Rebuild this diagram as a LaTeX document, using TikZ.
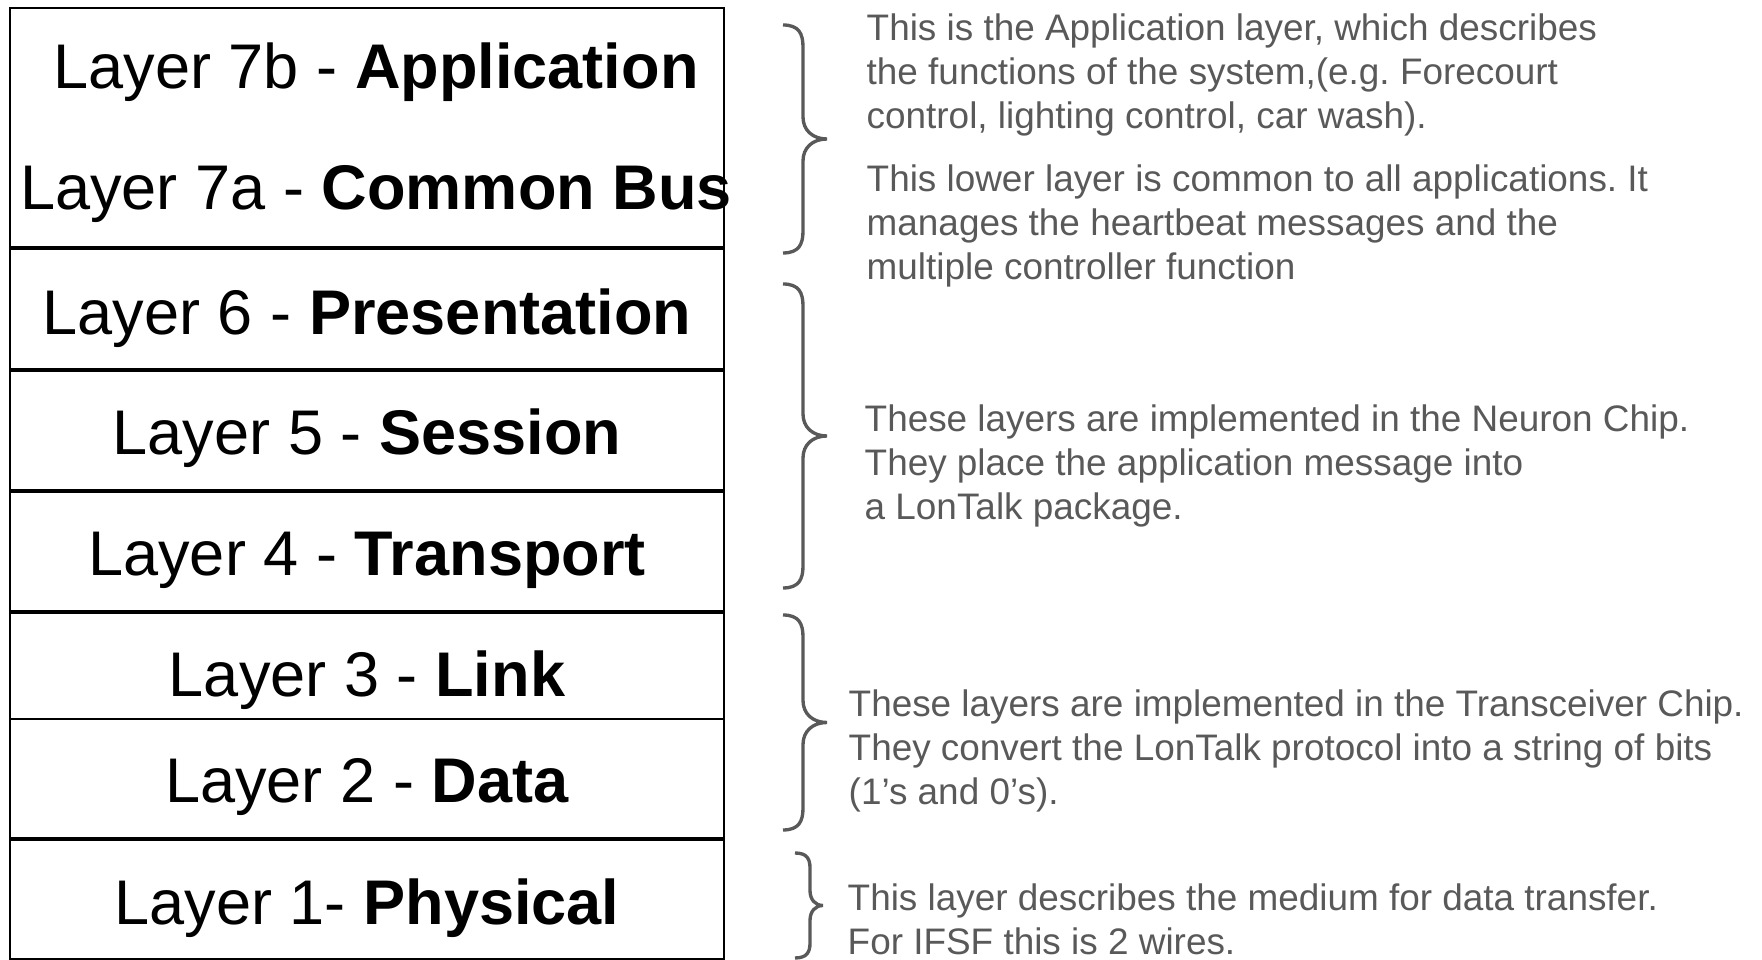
\documentclass[tikz,border=0pt]{standalone}
\usepackage{fontspec}
\setmainfont{Liberation Sans}

\definecolor{notegray}{RGB}{89,89,89}

% right-hand curly brace: end x, body x, tip x, top y, bottom y, curl length
\newcommand{\layerbrace}[6]{%
  \draw[bracegray] (#1,#4) .. controls ({#1+0.8*(#2-#1)},#4) and (#2,{#4-0.4*#6}) .. (#2,{#4-#6})
    -- (#2,{(#4+#5)/2+#6}) .. controls (#2,{(#4+#5)/2+0.4*#6}) and ({#2+0.4*(#3-#2)},{(#4+#5)/2}) .. (#3,{(#4+#5)/2})
    .. controls ({#2+0.4*(#3-#2)},{(#4+#5)/2}) and (#2,{(#4+#5)/2-0.4*#6}) .. (#2,{(#4+#5)/2-#6})
    -- (#2,{#5+#6}) .. controls (#2,{#5+0.4*#6}) and ({#1+0.8*(#2-#1)},#5) .. (#1,#5);%
}

\begin{document}
\begin{tikzpicture}[scale=1.0, thick,
  layerbox/.style={draw=black, line width=1.4pt},
  layertext/.style={anchor=base, inner sep=0pt, font=\fontsize{35.9pt}{43pt}\selectfont},
  notetext/.style={anchor=base west, inner sep=0pt, align=left, text=notegray,
    font=\fontsize{21pt}{25.3pt}\selectfont\frenchspacing},
  bracegray/.style={draw=notegray, line width=1.9pt}]

  \useasboundingbox (0,0) rectangle (35.24,19.2);

  % -- Layer Stack --
  \draw[layerbox] (0.20, 19.04) rectangle (14.48, 14.26);
  \draw[layerbox] (0.20, 14.22) rectangle (14.48, 11.82);
  \draw[layerbox] (0.20, 11.78) rectangle (14.48, 9.40);
  \draw[layerbox] (0.20, 9.36) rectangle (14.48, 6.98);
  \draw[layerbox] (0.20, 6.94) rectangle (14.48, 4.82);
  \draw[layerbox] (0.20, 4.82) rectangle (14.48, 2.44);
  \draw[layerbox] (0.20, 2.40) rectangle (14.48, 0.02);

  % -- Layer Names --
  \node[layertext] (app) at (7.52, 17.42) {Layer 7b - \textbf{Application}};
  \node[layertext] (bus) at (7.52, 15.00) {Layer 7a - \textbf{Common Bus}};
  \node[layertext] (pres) at (7.34, 12.50) {Layer 6 - \textbf{Presentation}};
  \node[layertext] (sess) at (7.34, 10.10) {Layer 5 - \textbf{Session}};
  \node[layertext] (trans) at (7.34, 7.68) {Layer 4 - \textbf{Transport}};
  \node[layertext] (link) at (7.34, 5.26) {Layer 3 - \textbf{Link}};
  \node[layertext] (data) at (7.34, 3.14) {Layer 2 - \textbf{Data}};
  \node[layertext] (phys) at (7.34, 0.70) {Layer 1- \textbf{Physical}};

  % -- Braces --
  \layerbrace{15.66}{16.06}{16.54}{18.70}{14.14}{0.44}
  \layerbrace{15.66}{16.06}{16.54}{13.52}{7.44}{0.44}
  \layerbrace{15.66}{16.06}{16.54}{6.90}{2.60}{0.44}
  \layerbrace{15.90}{16.20}{16.46}{2.14}{0.04}{0.30}

  % -- Notes (anchored at the last line) --
  \node[notetext] (note-app) at (17.32, 16.62) {This is the Application layer, which describes\\
    the functions of the system,(e.g. Forecourt\\ control, lighting control, car wash).};
  \node[notetext] (note-bus) at (17.32, 13.60) {This lower layer is common to all applications. It\\
    manages the heartbeat messages and the\\ multiple controller function};
  \node[notetext] (note-neuron) at (17.28, 8.80) {These layers are implemented in the Neuron Chip.\\
    They place the application message into\\ a LonTalk package.};
  \node[notetext] (note-xcvr) at (16.96, 3.10) {These layers are implemented in the Transceiver Chip.\\
    They convert the LonTalk protocol into a string of bits\\ (1’s and 0’s).};
  \node[notetext] (note-wire) at (16.94, 0.10) {This layer describes the medium for data transfer.\\
    For IFSF this is 2 wires.};

\end{tikzpicture}
\end{document}
